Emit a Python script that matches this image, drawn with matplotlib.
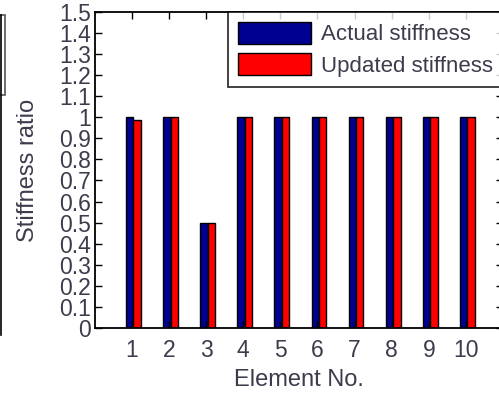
# -*- coding: utf-8 -*-
import numpy as np
import matplotlib
matplotlib.use("Agg")
import matplotlib.pyplot as plt
from matplotlib.patches import Rectangle
from matplotlib.lines import Line2D

# 单元编号与刚度比
单元编号 = [1, 2, 3, 4, 5, 6, 7, 8, 9, 10]
实际刚度 = [1.0, 1.0, 0.5, 1.0, 1.0, 1.0, 1.0, 1.0, 1.0, 1.0]
更新刚度 = [0.985, 1.0, 0.5, 1.0, 1.0, 1.0, 1.0, 1.0, 1.0, 1.0]
y刻度 = [round(0.1 * i, 1) for i in range(16)]
y刻度标签 = ["0", "0.1", "0.2", "0.3", "0.4", "0.5", "0.6", "0.7", "0.8",
          "0.9", "1", "1.1", "1.2", "1.3", "1.4", "1.5"]
图例标签 = ["Actual stiffness", "Updated stiffness"]

文字颜色 = "#3c3c4c"
蓝色 = "#000090"
红色 = "#ff0000"


def 画图():
    plt.rcParams["font.family"] = ["Liberation Sans", "DejaVu Sans"]
    图 = plt.figure(figsize=(4.99, 3.98), dpi=100)
    轴 = 图.add_axes([0.190, 0.176, 0.818, 0.794])

    x = np.array(单元编号)
    宽 = 0.2
    柱1 = 轴.bar(x - 宽 / 2 + 0.04, 实际刚度, 宽, color=蓝色,
                edgecolor="black", linewidth=1.0)
    柱2 = 轴.bar(x + 宽 / 2 + 0.04, 更新刚度, 宽, color=红色,
                edgecolor="black", linewidth=1.0)

    轴.set_xlim(0, 11)
    轴.set_ylim(0, 1.5)
    轴.set_xticks(单元编号)
    轴.set_xticklabels([str(i) for i in 单元编号])
    轴.set_yticks(y刻度)
    轴.set_yticklabels(y刻度标签)
    轴.tick_params(direction="in", length=5, width=1, top=True, right=True,
                  labelsize=16.5, labelcolor=文字颜色, pad=3)
    轴.tick_params(axis="x", pad=8)
    for 边 in 轴.spines.values():
        边.set_linewidth(1.3)

    轴.set_xlabel("Element No.", fontsize=17, color=文字颜色, labelpad=5)
    轴.set_ylabel("Stiffness ratio", fontsize=17, color=文字颜色, labelpad=14)

    # 图例放在右上角，贴住坐标轴上边
    图例 = 轴.legend([柱1, 柱2], 图例标签, loc="upper right",
                  bbox_to_anchor=(1.0, 1.0), fontsize=16, frameon=True,
                  fancybox=False, edgecolor="black", handlelength=3.3,
                  handleheight=1.15, handletextpad=0.45, borderpad=0.45,
                  labelspacing=0.35, borderaxespad=0.0)
    图例.get_frame().set_linewidth(1.3)
    for t in 图例.get_texts():
        t.set_color(文字颜色)

    # 左侧被裁掉的相邻子图边框
    图.add_artist(Line2D([0.002, 0.002], [1 - 15 / 398, 1 - 335 / 398],
                         transform=图.transFigure, color="black", lw=1.2))
    图.add_artist(Rectangle((-0.01, 1 - 95 / 398), 0.02, 80 / 398,
                            transform=图.transFigure, fill=False,
                            edgecolor="#555555", lw=1.2))

    图.savefig("out.png", dpi=100)


if __name__ == "__main__":
    画图()
